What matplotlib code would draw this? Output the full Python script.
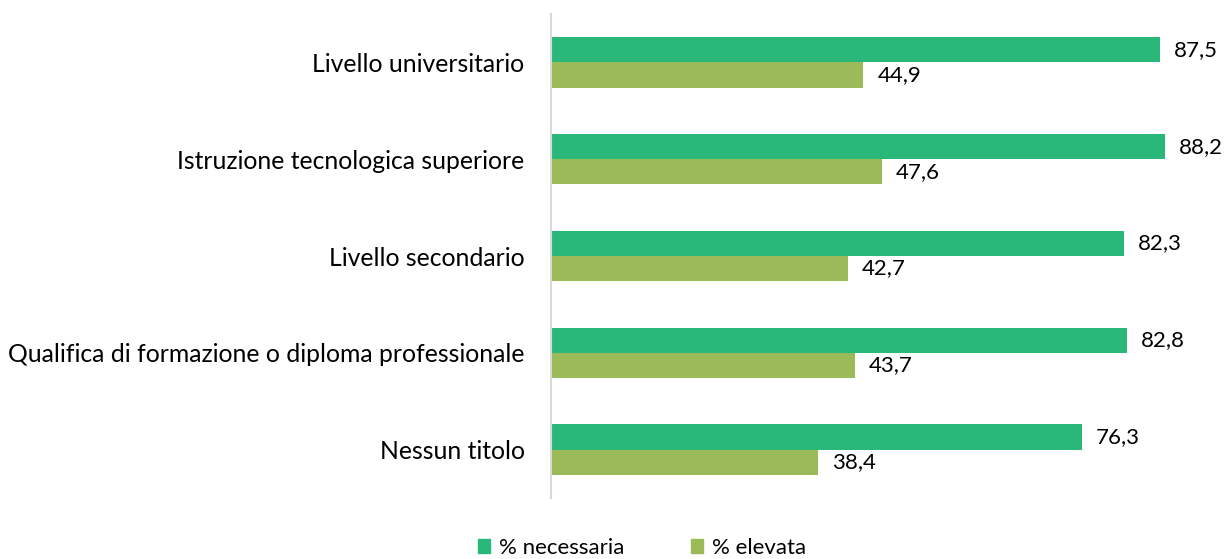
import matplotlib.pyplot as plt
import numpy as np
from matplotlib.patches import Patch

categories = [
    "Nessun titolo",
    "Qualifica di formazione o diploma professionale",
    "Livello secondario",
    "Istruzione tecnologica superiore",
    "Livello universitario",
]
necessaria = [76.3, 82.8, 82.3, 88.2, 87.5]
elevata = [38.4, 43.7, 42.7, 47.6, 44.9]

GREEN = "#2AB77A"
OLIVE = "#9BBB59"

plt.rcParams['font.family'] = ['Lato', 'DejaVu Sans']

fig = plt.figure(figsize=(12.28, 5.59), dpi=100)
ax = fig.add_axes([551 / 1228, 61 / 559, 661 / 1228, 484 / 559])

y = np.arange(len(categories))
h = 0.26
ax.barh(y + h / 2, necessaria, height=h, color=GREEN)
ax.barh(y - h / 2, elevata, height=h, color=OLIVE)

# value labels, Italian decimal comma
for yi, v in zip(y + h / 2, necessaria):
    ax.annotate(f"{v:.1f}".replace(".", ","), (v, yi), xytext=(10, 0),
                textcoords="offset points", va="center", ha="left", fontsize=16)
for yi, v in zip(y - h / 2, elevata):
    ax.annotate(f"{v:.1f}".replace(".", ","), (v, yi), xytext=(10, 0),
                textcoords="offset points", va="center", ha="left", fontsize=16)

ax.set_xlim(0, 95)
ax.set_ylim(-0.5, len(categories) - 0.5)
ax.set_yticks(y)
ax.set_yticklabels(categories, fontsize=17.8)
ax.tick_params(axis='y', length=0, pad=19)
ax.set_xticks([])
for s in ['top', 'right', 'bottom']:
    ax.spines[s].set_visible(False)
ax.spines['left'].set_color('#D9D9D9')
ax.spines['left'].set_linewidth(1.5)

handles = [Patch(color=GREEN, label="% necessaria"),
           Patch(color=OLIVE, label="% elevata")]
fig.legend(handles=handles, loc='center', bbox_to_anchor=(642 / 1228, 11 / 559),
           ncol=2, frameon=False, fontsize=16, handlelength=0.55, handleheight=0.55,
           handletextpad=0.4, columnspacing=3.0)

plt.savefig("out.png", dpi=100)
